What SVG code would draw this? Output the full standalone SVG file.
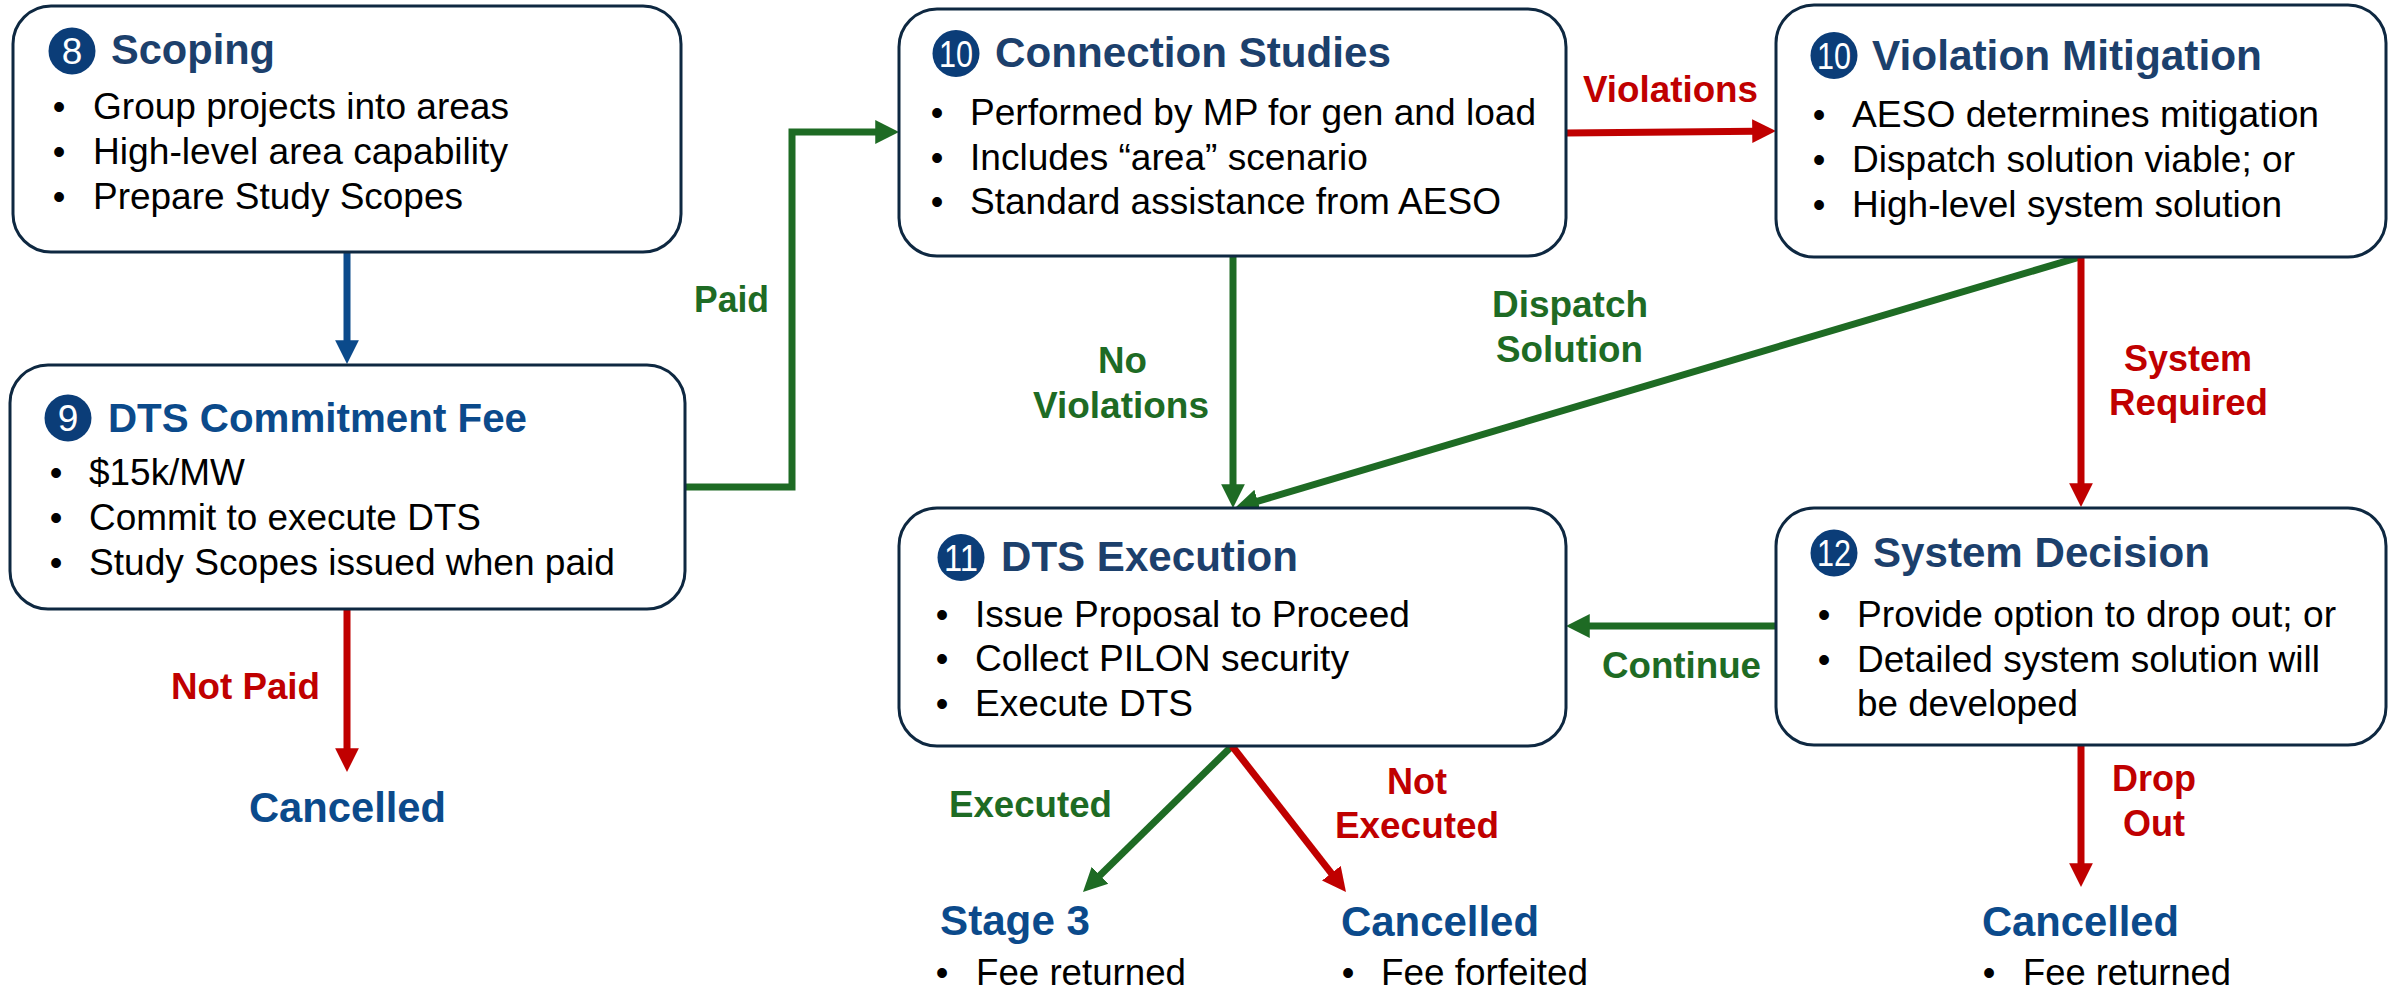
<svg xmlns="http://www.w3.org/2000/svg" width="2396" height="1000" viewBox="0 0 2396 1000">
<style>
text{font-family:"Liberation Sans",Arial,sans-serif}
.box{fill:#fff;stroke:#0E2841;stroke-width:3}
.badge{fill:#0B3D78}
.num{fill:#fff;font-size:37px;text-anchor:middle}
.ttl{fill:#1C406C;font-size:42px;font-weight:bold}
.ttl2{fill:#0B4A8B;font-size:42px;font-weight:bold}
.body{fill:#000;font-size:36px}
.bul{fill:#000;font-size:36px;text-anchor:middle}
.lbl{font-size:36px;font-weight:bold}
.g{fill:#1E6B24}.r{fill:#C00000}
.cg{stroke:#1E6B24;stroke-width:7;fill:none;marker-end:url(#ag)}
.cr{stroke:#C00000;stroke-width:7;fill:none;marker-end:url(#ar)}
.cb{stroke:#0B4A8B;stroke-width:7;fill:none;marker-end:url(#ab)}
</style>
<defs>
<marker id="ag" viewBox="0 0 10 10" refX="1" refY="5" markerWidth="3.4" markerHeight="3.6" orient="auto" markerUnits="strokeWidth"><path d="M0,0L10,5L0,10z" fill="#1E6B24"/></marker>
<marker id="ar" viewBox="0 0 10 10" refX="1" refY="5" markerWidth="3.4" markerHeight="3.6" orient="auto" markerUnits="strokeWidth"><path d="M0,0L10,5L0,10z" fill="#C00000"/></marker>
<marker id="ab" viewBox="0 0 10 10" refX="1" refY="5" markerWidth="3.4" markerHeight="3.6" orient="auto" markerUnits="strokeWidth"><path d="M0,0L10,5L0,10z" fill="#0B4A8B"/></marker>
</defs>
<rect width="2396" height="1000" fill="#fff"/>

<g id="connectors">
<path class="cb" d="M347,252V342.6"/>
<path class="cr" d="M347,609V750.6"/>
<path class="cg" d="M685,487H792V132H877.6"/>
<path class="cr" d="M1566,133L1754.6,131.2"/>
<path class="cg" d="M1233,256V486.6"/>
<path class="cg" d="M2080,257L1255.5,501.9"/>
<path class="cr" d="M2081,257V485.6"/>
<path class="cg" d="M1776,626H1587.4"/>
<path class="cg" d="M1232,746L1098.3,877"/>
<path class="cr" d="M1232,746L1332.8,875.1"/>
<path class="cr" d="M2081,745V865.6"/>
<text class="lbl r" x="171" y="699" textLength="149" lengthAdjust="spacingAndGlyphs">Not Paid</text>
<text class="lbl g" x="694" y="312" textLength="75" lengthAdjust="spacingAndGlyphs">Paid</text>
<text class="lbl r" x="1583" y="102" textLength="175" lengthAdjust="spacingAndGlyphs">Violations</text>
<text class="lbl g" x="1098" y="373" textLength="49" lengthAdjust="spacingAndGlyphs">No</text>
<text class="lbl g" x="1033" y="418" textLength="176" lengthAdjust="spacingAndGlyphs">Violations</text>
<text class="lbl g" x="1492" y="317" textLength="156" lengthAdjust="spacingAndGlyphs">Dispatch</text>
<text class="lbl g" x="1496" y="362" textLength="147" lengthAdjust="spacingAndGlyphs">Solution</text>
<text class="lbl r" x="2124" y="371" textLength="128" lengthAdjust="spacingAndGlyphs">System</text>
<text class="lbl r" x="2109" y="415" textLength="159" lengthAdjust="spacingAndGlyphs">Required</text>
<text class="lbl g" x="1602" y="678" textLength="159" lengthAdjust="spacingAndGlyphs">Continue</text>
<text class="lbl g" x="949" y="817" textLength="163" lengthAdjust="spacingAndGlyphs">Executed</text>
<text class="lbl r" x="1387" y="794" textLength="60" lengthAdjust="spacingAndGlyphs">Not</text>
<text class="lbl r" x="1335" y="838" textLength="164" lengthAdjust="spacingAndGlyphs">Executed</text>
<text class="lbl r" x="2112" y="791" textLength="84" lengthAdjust="spacingAndGlyphs">Drop</text>
<text class="lbl r" x="2123" y="836" textLength="62" lengthAdjust="spacingAndGlyphs">Out</text>
</g>

<g id="scoping">
<rect class="box" x="13" y="6" width="668" height="246" rx="38"/>
<circle class="badge" cx="72" cy="51" r="23.5"/>
<text class="num" x="72" y="64">8</text>
<text class="ttl" x="111" y="64" textLength="164" lengthAdjust="spacingAndGlyphs">Scoping</text>
<text class="bul" x="59" y="119">•</text><text class="body" x="93" y="119" textLength="416" lengthAdjust="spacingAndGlyphs">Group projects into areas</text>
<text class="bul" x="59" y="164">•</text><text class="body" x="93" y="164" textLength="415" lengthAdjust="spacingAndGlyphs">High-level area capability</text>
<text class="bul" x="59" y="209">•</text><text class="body" x="93" y="209" textLength="370" lengthAdjust="spacingAndGlyphs">Prepare Study Scopes</text>
</g>

<g id="dts-commitment-fee">
<rect class="box" x="10" y="365" width="675" height="244" rx="38"/>
<circle class="badge" cx="68" cy="418" r="23.5"/>
<text class="num" x="68" y="431">9</text>
<text class="ttl2" x="108" y="432" textLength="419" lengthAdjust="spacingAndGlyphs" style="font-size:40px">DTS Commitment Fee</text>
<text class="bul" x="56" y="485">•</text><text class="body" x="89" y="485" textLength="156" lengthAdjust="spacingAndGlyphs">$15k/MW</text>
<text class="bul" x="56" y="530">•</text><text class="body" x="89" y="530" textLength="392" lengthAdjust="spacingAndGlyphs">Commit to execute DTS</text>
<text class="bul" x="56" y="575">•</text><text class="body" x="89" y="575" textLength="526" lengthAdjust="spacingAndGlyphs">Study Scopes issued when paid</text>
</g>

<g id="cancelled-1">
<text class="ttl2" x="249" y="822" textLength="197" lengthAdjust="spacingAndGlyphs">Cancelled</text>
</g>

<g id="connection-studies">
<rect class="box" x="899" y="9" width="667" height="247" rx="38"/>
<circle class="badge" cx="956" cy="53.5" r="23.5"/>
<text class="num" x="956" y="66.5" textLength="34" lengthAdjust="spacingAndGlyphs">10</text>
<text class="ttl" x="995" y="67" textLength="396" lengthAdjust="spacingAndGlyphs">Connection Studies</text>
<text class="bul" x="937" y="125">•</text><text class="body" x="970" y="125" textLength="566" lengthAdjust="spacingAndGlyphs">Performed by MP for gen and load</text>
<text class="bul" x="937" y="170">•</text><text class="body" x="970" y="170" textLength="398" lengthAdjust="spacingAndGlyphs">Includes “area” scenario</text>
<text class="bul" x="937" y="214">•</text><text class="body" x="970" y="214" textLength="531" lengthAdjust="spacingAndGlyphs">Standard assistance from AESO</text>
</g>

<g id="violation-mitigation">
<rect class="box" x="1776" y="5" width="610" height="252" rx="38"/>
<circle class="badge" cx="1834" cy="55.5" r="23.5"/>
<text class="num" x="1834" y="68.5" textLength="34" lengthAdjust="spacingAndGlyphs">10</text>
<text class="ttl" x="1872" y="70" textLength="390" lengthAdjust="spacingAndGlyphs">Violation Mitigation</text>
<text class="bul" x="1819" y="127">•</text><text class="body" x="1852" y="127" textLength="467" lengthAdjust="spacingAndGlyphs">AESO determines mitigation</text>
<text class="bul" x="1819" y="172">•</text><text class="body" x="1852" y="172" textLength="443" lengthAdjust="spacingAndGlyphs">Dispatch solution viable; or</text>
<text class="bul" x="1819" y="217">•</text><text class="body" x="1852" y="217" textLength="430" lengthAdjust="spacingAndGlyphs">High-level system solution</text>
</g>

<g id="dts-execution">
<rect class="box" x="899" y="508" width="667" height="238" rx="38"/>
<circle class="badge" cx="961" cy="557.5" r="23.5"/>
<text class="num" x="961" y="570.5" textLength="34" lengthAdjust="spacingAndGlyphs">11</text>
<text class="ttl" x="1001" y="571" textLength="297" lengthAdjust="spacingAndGlyphs">DTS Execution</text>
<text class="bul" x="942" y="627">•</text><text class="body" x="975" y="627" textLength="435" lengthAdjust="spacingAndGlyphs">Issue Proposal to Proceed</text>
<text class="bul" x="942" y="671">•</text><text class="body" x="975" y="671" textLength="374" lengthAdjust="spacingAndGlyphs">Collect PILON security</text>
<text class="bul" x="942" y="716">•</text><text class="body" x="975" y="716" textLength="218" lengthAdjust="spacingAndGlyphs">Execute DTS</text>
</g>

<g id="system-decision">
<rect class="box" x="1776" y="508" width="610" height="237" rx="38"/>
<circle class="badge" cx="1834" cy="553" r="23.5"/>
<text class="num" x="1834" y="566" textLength="34" lengthAdjust="spacingAndGlyphs">12</text>
<text class="ttl" x="1873" y="567" textLength="337" lengthAdjust="spacingAndGlyphs">System Decision</text>
<text class="bul" x="1824" y="627">•</text><text class="body" x="1857" y="627" textLength="479" lengthAdjust="spacingAndGlyphs">Provide option to drop out; or</text>
<text class="bul" x="1824" y="672">•</text><text class="body" x="1857" y="672" textLength="463" lengthAdjust="spacingAndGlyphs">Detailed system solution will</text>
<text class="body" x="1857" y="716" textLength="221" lengthAdjust="spacingAndGlyphs">be developed</text>
</g>

<g id="stage-3">
<text class="ttl2" x="940" y="935" textLength="150" lengthAdjust="spacingAndGlyphs">Stage 3</text>
<text class="bul" x="942" y="985">•</text><text class="body" x="976" y="985" textLength="210" lengthAdjust="spacingAndGlyphs">Fee returned</text>
</g>

<g id="cancelled-2">
<text class="ttl2" x="1341" y="936" textLength="198" lengthAdjust="spacingAndGlyphs">Cancelled</text>
<text class="bul" x="1348" y="985">•</text><text class="body" x="1381" y="985" textLength="207" lengthAdjust="spacingAndGlyphs">Fee forfeited</text>
</g>

<g id="cancelled-3">
<text class="ttl2" x="1982" y="936" textLength="197" lengthAdjust="spacingAndGlyphs">Cancelled</text>
<text class="bul" x="1989" y="985">•</text><text class="body" x="2023" y="985" textLength="208" lengthAdjust="spacingAndGlyphs">Fee returned</text>
</g>
</svg>
